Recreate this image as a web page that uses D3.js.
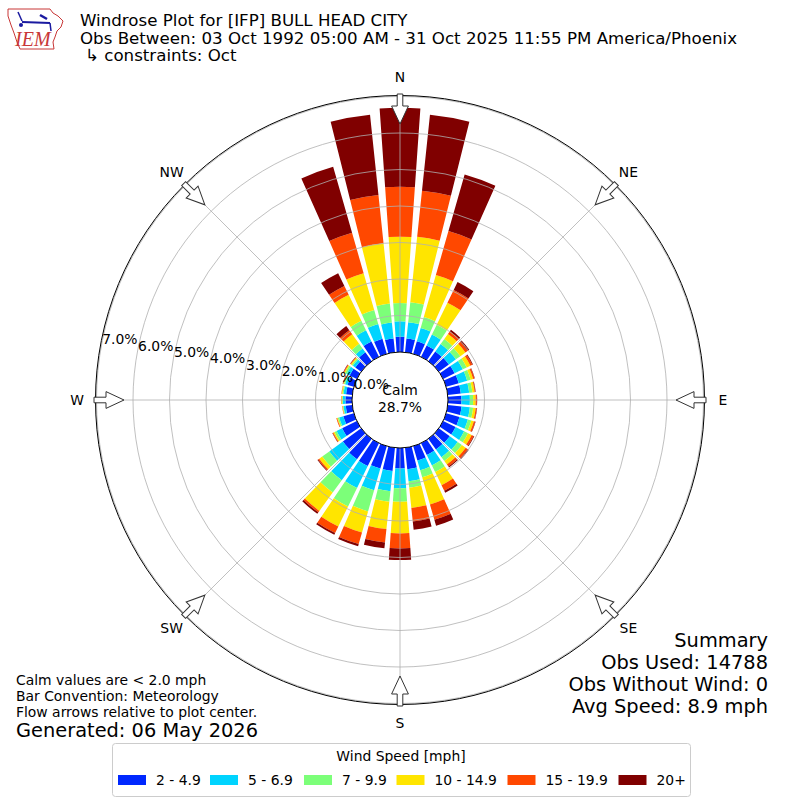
<!DOCTYPE html>
<html>
<head>
<meta charset="utf-8">
<script src="https://cdn.jsdelivr.net/npm/d3@7"></script>
<style>
    body { margin: 0; background: #fff; }
    text { font-family: "DejaVu Sans", sans-serif; fill: #000; }
</style>
</head>
<body>
<div id="windrose"></div>
<script>
// directions (deg, meteorological) and percent of obs per speed bin
var directions = [0, 10, 20, 30, 40, 50, 60, 70, 80, 90, 100, 110, 120, 130, 140, 150, 160, 170,
    180, 190, 200, 210, 220, 230, 240, 250, 260, 270, 280, 290, 300, 310, 320, 330, 340, 350];
var speed2 = [0.42, 0.38, 0.36, 0.35, 0.33, 0.34, 0.35, 0.36, 0.36, 0.37, 0.38, 0.38, 0.38, 0.37, 0.36, 0.36, 0.41, 0.59,
    0.56, 0.64, 0.64, 0.70, 0.69, 0.62, 0.45, 0.30, 0.18, 0.18, 0.17, 0.18, 0.22, 0.20, 0.30, 0.47, 0.43, 0.38];
var speed5 = [0.42, 0.45, 0.38, 0.33, 0.25, 0.24, 0.25, 0.24, 0.23, 0.23, 0.23, 0.24, 0.26, 0.27, 0.26, 0.32, 0.28, 0.33,
    0.54, 0.56, 0.62, 0.67, 0.71, 0.46, 0.17, 0.12, 0.06, 0.07, 0.07, 0.07, 0.09, 0.08, 0.13, 0.34, 0.42, 0.44];
var speed7 = [0.50, 0.55, 0.31, 0.30, 0.17, 0.15, 0.12, 0.10, 0.09, 0.09, 0.09, 0.10, 0.12, 0.14, 0.13, 0.20, 0.20, 0.18,
    0.37, 0.29, 0.60, 0.56, 0.42, 0.24, 0.06, 0.04, 0.02, 0.02, 0.03, 0.03, 0.05, 0.04, 0.16, 0.29, 0.40, 0.52];
var speed10 = [1.82, 1.80, 1.20, 0.67, 0.17, 0.17, 0.11, 0.07, 0.06, 0.07, 0.07, 0.07, 0.11, 0.13, 0.12, 0.40, 0.77, 0.56,
    0.87, 0.75, 0.60, 0.61, 0.62, 0.10, 0.04, 0.02, 0.01, 0.02, 0.02, 0.02, 0.03, 0.03, 0.32, 0.79, 1.05, 1.66];
var speed15 = [1.37, 1.27, 1.25, 0.39, 0.09, 0.08, 0.06, 0.04, 0.02, 0.03, 0.03, 0.04, 0.06, 0.07, 0.07, 0.17, 0.44, 0.37,
    0.41, 0.37, 0.33, 0.20, 0.05, 0.04, 0.02, 0.02, 0.01, 0.01, 0.01, 0.01, 0.02, 0.02, 0.14, 0.27, 1.15, 1.33];
var speed20 = [2.16, 2.09, 1.61, 0.24, 0.05, 0.05, 0.02, 0.01, 0.01, 0.01, 0.01, 0.01, 0.02, 0.03, 0.03, 0.06, 0.17, 0.23,
    0.32, 0.16, 0.06, 0.05, 0.05, 0.02, 0.01, 0.00, 0.00, 0.00, 0.00, 0.01, 0.01, 0.01, 0.14, 0.39, 1.88, 2.21];
var speedLabels = ["2 - 4.9", "5 - 6.9", "7 - 9.9", "10 - 14.9", "15 - 19.9", "20+"];
var ringTicks = [0, 1, 2, 3, 4, 5, 6, 7];
var compassLabels = ["N", "NE", "E", "SE", "S", "SW", "W", "NW"];
var calmPercent = 28.7;

var speedColors = ["#0028ff", "#00d4ff", "#7cff79", "#ffe500", "#ff4800", "#800000"];

var width = 800, height = 800;
var cx = 400, cy = 400;

var svg = d3.select("#windrose").append("svg")
    .attr("width", width)
    .attr("height", height);

// build rows for the stack
var keys = ["s0", "s1", "s2", "s3", "s4", "s5"];
var allSpeeds = [speed2, speed5, speed7, speed10, speed15, speed20];
var rows = directions.map(function (d, i) {
    var row = { dir: d };
    keys.forEach(function (k, j) { row[k] = allSpeeds[j][i]; });
    return row;
});
var series = d3.stack().keys(keys)(rows);

var radialScale = d3.scaleLinear().domain([0, 7]).range([48, 303.5]);
var angleScale = d3.scaleLinear().domain([0, 360]).range([0, 2 * Math.PI]);
var halfWidth = 4; // degrees each side of bar centre

var plot = svg.append("g").attr("transform", "translate(" + cx + "," + cy + ")");

var arc = d3.arc()
    .innerRadius(function (d) { return radialScale(d[0]); })
    .outerRadius(function (d) { return radialScale(d[1]); })
    .startAngle(function (d) { return angleScale(d.data.dir - halfWidth); })
    .endAngle(function (d) { return angleScale(d.data.dir + halfWidth); });

plot.selectAll("g.layer")
    .data(series)
    .enter().append("g")
    .attr("class", "layer")
    .attr("fill", function (d, i) { return speedColors[i]; })
    .selectAll("path")
    .data(function (d) { return d; })
    .enter().append("path")
    .attr("d", arc);

// grid sits on top of the bars, like the original
plot.selectAll("circle.ring")
    .data(ringTicks.slice(1))
    .enter().append("circle")
    .attr("class", "ring")
    .attr("r", function (d) { return radialScale(d); })
    .attr("fill", "none")
    .attr("stroke", "#b0b0b0")
    .attr("stroke-width", 0.8);

var spokeAngles = d3.range(0, 360, 45);
plot.selectAll("line.spoke")
    .data(spokeAngles)
    .enter().append("line")
    .attr("class", "spoke")
    .attr("x1", 0).attr("y1", 0)
    .attr("x2", function (d) { return Math.sin(angleScale(d)) * radialScale(7); })
    .attr("y2", function (d) { return -Math.cos(angleScale(d)) * radialScale(7); })
    .attr("stroke", "#b0b0b0")
    .attr("stroke-width", 0.8);

// outer spine
plot.append("circle")
    .attr("r", radialScale(7) + 1)
    .attr("fill", "none")
    .attr("stroke", "#000")
    .attr("stroke-width", 1);

// calm circle
plot.append("circle")
    .attr("r", radialScale(0))
    .attr("fill", "#fff")
    .attr("stroke", "#000")
    .attr("stroke-width", 1);

plot.append("text")
    .attr("x", 0).attr("y", -5)
    .attr("text-anchor", "middle")
    .attr("font-size", "13.9px")
    .text("Calm");
plot.append("text")
    .attr("x", 0).attr("y", 12)
    .attr("text-anchor", "middle")
    .attr("font-size", "13.9px")
    .text(calmPercent.toFixed(1) + "%");

// radial tick labels along bearing 280
var labelBearing = angleScale(280);
plot.selectAll("text.rlabel")
    .data(ringTicks)
    .enter().append("text")
    .attr("class", "rlabel")
    .attr("x", function (d) { return Math.sin(labelBearing) * radialScale(d) + 1; })
    .attr("y", function (d) { return -Math.cos(labelBearing) * radialScale(d) - 3; })
    .attr("font-size", "13.9px")
    .text(function (d) { return d.toFixed(1) + "%"; });

// flow arrows at the compass points
var arrowShape = [[-2.8, -306], [2.8, -306], [2.8, -294], [8.4, -294], [0, -276], [-8.4, -294], [-2.8, -294]];
plot.selectAll("path.arrow")
    .data(spokeAngles)
    .enter().append("path")
    .attr("class", "arrow")
    .attr("transform", function (d) { return "rotate(" + d + ")"; })
    .attr("d", d3.line()(arrowShape) + "Z")
    .attr("fill", "#fff")
    .attr("stroke", "#333")
    .attr("stroke-width", 1);

plot.selectAll("text.compass")
    .data(spokeAngles)
    .enter().append("text")
    .attr("class", "compass")
    .attr("x", function (d) { return Math.sin(angleScale(d)) * 323; })
    .attr("y", function (d) { return -Math.cos(angleScale(d)) * 323 + 5; })
    .attr("text-anchor", "middle")
    .attr("font-size", "13.9px")
    .text(function (d, i) { return compassLabels[i]; });

// titles
var titles = ["Windrose Plot for [IFP] BULL HEAD CITY",
    "Obs Between: 03 Oct 1992 05:00 AM - 31 Oct 2025 11:55 PM America/Phoenix",
    "\u21b3 constraints: Oct"];
svg.selectAll("text.title")
    .data(titles)
    .enter().append("text")
    .attr("class", "title")
    .attr("x", function (d, i) { return i == 2 ? 85 : 80; })
    .attr("y", function (d, i) { return 26 + i * 17.5; })
    .attr("font-size", "16.67px")
    .text(function (d) { return d; });

// IEM logo (rough)
var logo = svg.append("g");
logo.append("path")
    .attr("d", "M8,9 L50,9 L53,13 L58,16 L63,21 L61,27 L57,31 L55,37 L53,42 L54,49 L20,49 L17,42 L14,33 L11,25 L8,16 Z")
    .attr("fill", "none")
    .attr("stroke", "#c83737")
    .attr("stroke-width", 1);
logo.append("line").attr("x1", 22).attr("y1", 22).attr("x2", 50).attr("y2", 23)
    .attr("stroke", "#1a1aa0").attr("stroke-width", 2);
logo.append("line").attr("x1", 18).attr("y1", 12).attr("x2", 22).attr("y2", 21)
    .attr("stroke", "#1a1aa0").attr("stroke-width", 1.5);
logo.append("line").attr("x1", 40).attr("y1", 15).attr("x2", 47).attr("y2", 19)
    .attr("stroke", "#1a1aa0").attr("stroke-width", 2.5);
logo.append("circle").attr("cx", 21).attr("cy", 25).attr("r", 2).attr("fill", "#1a1aa0");
logo.append("line").attr("x1", 50).attr("y1", 23).attr("x2", 51).attr("y2", 31)
    .attr("stroke", "#1a1aa0").attr("stroke-width", 1.5);
logo.append("text")
    .attr("x", 15).attr("y", 46)
    .attr("font-style", "italic")
    .attr("font-size", "20px")
    .style("font-family", "'Liberation Serif', serif")
    .style("fill", "#c83737")
    .text("IEM");

// summary block
var summary = ["Summary", "Obs Used: 14788", "Obs Without Wind: 0", "Avg Speed: 8.9 mph"];
svg.selectAll("text.summary")
    .data(summary)
    .enter().append("text")
    .attr("class", "summary")
    .attr("x", 768)
    .attr("y", function (d, i) { return 647 + i * 22; })
    .attr("text-anchor", "end")
    .attr("font-size", "19.4px")
    .text(function (d) { return d; });

var notes = ["Calm values are < 2.0 mph", "Bar Convention: Meteorology", "Flow arrows relative to plot center."];
svg.selectAll("text.note")
    .data(notes)
    .enter().append("text")
    .attr("class", "note")
    .attr("x", 16)
    .attr("y", function (d, i) { return 685 + i * 16; })
    .attr("font-size", "13.9px")
    .text(function (d) { return d; });
svg.append("text")
    .attr("x", 16).attr("y", 737)
    .attr("font-size", "19.4px")
    .text("Generated: 06 May 2026");

// legend
var legend = svg.append("g");
legend.append("rect")
    .attr("x", 112.5).attr("y", 743.5)
    .attr("width", 578).attr("height", 53)
    .attr("rx", 3)
    .attr("fill", "#fff")
    .attr("stroke", "#cccccc");
legend.append("text")
    .attr("x", 401).attr("y", 761)
    .attr("text-anchor", "middle")
    .attr("font-size", "13.9px")
    .text("Wind Speed [mph]");
var legendX = [118, 210, 304, 396.5, 507.5, 618.5];
var items = legend.selectAll("g.item")
    .data(speedLabels)
    .enter().append("g")
    .attr("class", "item")
    .attr("transform", function (d, i) { return "translate(" + legendX[i] + ",775)"; });
items.append("rect")
    .attr("width", 28).attr("height", 10)
    .attr("fill", function (d, i) { return speedColors[i]; });
items.append("text")
    .attr("x", 38).attr("y", 10)
    .attr("font-size", "13.9px")
    .text(function (d) { return d; });
</script>
</body>
</html>
